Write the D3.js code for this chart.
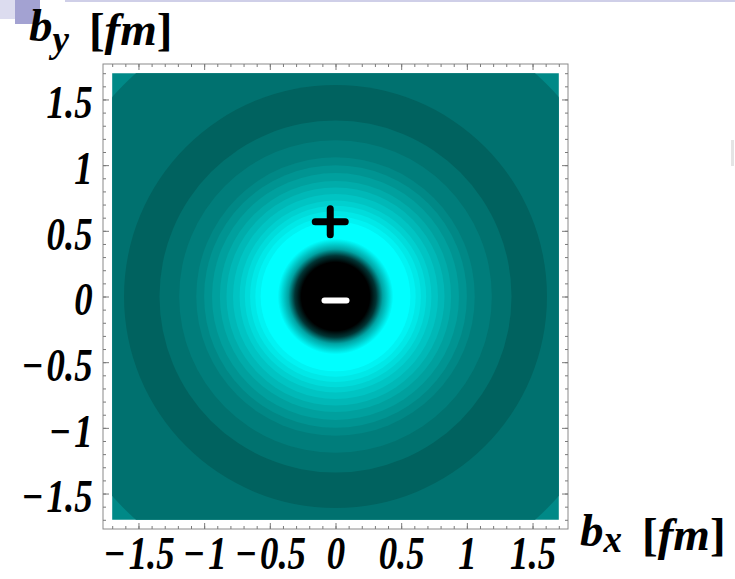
<!DOCTYPE html>
<html>
<head>
<meta charset="utf-8">
<script src="https://cdn.jsdelivr.net/npm/d3@7"></script>
<style>
  body { margin: 0; background: #fff; }
  text { font-family: "Liberation Serif", "Times New Roman", serif; }
</style>
</head>
<body>
<svg id="chart" width="735" height="579"></svg>
<script>
// contour bands, outer radius in fm, outermost first
var bandRadii  = [2.6, 2.28, 1.61, 1.34, 1.19, 1.06, 1.0, 0.94, 0.88, 0.83, 0.78, 0.73, 0.69, 0.65, 0.61, 0.57];
var bandColors = ["#008987", "#00716f", "#00625f", "#00726f", "#007d7b", "#008886", "#009492", "#00a09e",
                  "#00acaa", "#00b8b7", "#00c4c3", "#00d0cf", "#00dcdb", "#00e8e7", "#00f3f3", "#00ffff"];
// the negative core: smooth ramp from black to cyan
var coreRadius = 0.44;
var coreStopR  = [0, 0.26, 0.31, 0.36, 0.44];
var coreStopC  = ["#000000", "#000000", "#003535", "#00a4a4", "#00ffff"];

var xTicks = [-1.5, -1, -0.5, 0, 0.5, 1, 1.5];
var yTicks = [-1.5, -1, -0.5, 0, 0.5, 1, 1.5];
var minorTicks = d3.range(-17, 18).map(function(d) { return d / 10; });

var chargeX = [-0.04, 0];
var chargeY = [0.57, -0.03];
var chargeSign = ["+", "-"];

var svg = d3.select("#chart");

// slide decoration in the corner
svg.append("rect").attr("x", 0).attr("y", 0).attr("width", 15).attr("height", 19).attr("fill", "#dcdcef");
svg.append("rect").attr("x", 15).attr("y", 0).attr("width", 25).attr("height", 24).attr("fill", "#a3a2d2");
svg.append("rect").attr("x", 65).attr("y", 0).attr("width", 670).attr("height", 2).attr("fill", "#cfcfe8");
svg.append("rect").attr("x", 731).attr("y", 140).attr("width", 3).attr("height", 26).attr("fill", "#e4e4e4");

var x = d3.scaleLinear().domain([-1.77, 1.77]).range([103, 568]);
var y = d3.scaleLinear().domain([-1.77, 1.77]).range([529, 64]);
var k = x(1) - x(0);

// clip to plot region
svg.append("clipPath").attr("id", "plotclip")
  .append("rect")
    .attr("x", x(-1.7)).attr("y", y(1.7))
    .attr("width", x(1.7) - x(-1.7)).attr("height", y(-1.7) - y(1.7));

var grad = svg.append("defs").append("radialGradient")
    .attr("id", "core")
    .attr("gradientUnits", "userSpaceOnUse")
    .attr("cx", x(0)).attr("cy", y(0)).attr("r", coreRadius * k);
grad.selectAll("stop")
  .data(coreStopR)
  .enter().append("stop")
    .attr("offset", function(d) { return d / coreRadius; })
    .attr("stop-color", function(d, i) { return coreStopC[i]; });

var plot = svg.append("g").attr("clip-path", "url(#plotclip)");

plot.selectAll("circle.band")
  .data(bandRadii)
  .enter().append("circle")
    .attr("class", "band")
    .attr("cx", x(0)).attr("cy", y(0))
    .attr("r", function(d) { return d * k; })
    .attr("fill", function(d, i) { return bandColors[i]; });

plot.append("circle")
    .attr("cx", x(0)).attr("cy", y(0))
    .attr("r", coreRadius * k)
    .attr("fill", "url(#core)");

// frame with inward ticks
svg.append("rect")
    .attr("x", x(-1.77)).attr("y", y(1.77))
    .attr("width", x(1.77) - x(-1.77)).attr("height", y(-1.77) - y(1.77))
    .attr("fill", "none").attr("stroke", "#8a8a8a").attr("stroke-width", 1);

function frameTicks(axis, tx, ty, vals, size) {
  svg.append("g")
    .attr("transform", "translate(" + tx + "," + ty + ")")
    .call(axis.tickValues(vals).tickSize(size).tickFormat(""))
    .call(function(g) { g.select(".domain").remove(); })
    .selectAll("line").attr("stroke", "#7a7a7a");
}
[[d3.axisBottom(x), 0, y(-1.77)], [d3.axisTop(x), 0, y(1.77)],
 [d3.axisLeft(y), x(-1.77), 0], [d3.axisRight(y), x(1.77), 0]].forEach(function(a) {
  frameTicks(a[0], a[1], a[2], minorTicks, -3);
  frameTicks(a[0], a[1], a[2], xTicks, -6);
});

function fmt(d) { return d < 0 ? "\u2212\u200a" + Math.abs(d) : String(d); }

var xLab = svg.append("g")
    .attr("class", "lab")
    .attr("transform", "translate(0," + y(-1.77) + ")")
    .call(d3.axisBottom(x).tickValues(xTicks).tickSize(0).tickPadding(7).tickFormat(fmt));
xLab.select(".domain").remove();

var yLab = svg.append("g")
    .attr("class", "lab")
    .attr("transform", "translate(" + x(-1.77) + ",0)")
    .call(d3.axisLeft(y).tickValues(yTicks).tickSize(0).tickPadding(13).tickFormat(fmt));
yLab.select(".domain").remove();
yLab.selectAll("text").attr("dy", "0.40em");

svg.selectAll(".lab .tick text")
    .attr("fill", "#000")
    .attr("transform", "scale(0.8,1)")
    .style("font-family", "'Liberation Serif', 'Times New Roman', serif")
    .style("font-size", "46px")
    .style("font-weight", "bold")
    .style("font-style", "italic");

// charge markers
chargeSign.forEach(function(s, i) {
  var cx = x(chargeX[i]), cy = y(chargeY[i]);
  var col = s === "+" ? "#000" : "#fff";
  var w = s === "+" ? 7 : 6;
  plot.append("line")
      .attr("x1", cx - (s === "+" ? 15 : 11)).attr("x2", cx + (s === "+" ? 15 : 11))
      .attr("y1", cy).attr("y2", cy)
      .attr("stroke", col).attr("stroke-width", w).attr("stroke-linecap", "round");
  if (s === "+") {
    plot.append("line")
        .attr("x1", cx).attr("x2", cx).attr("y1", cy - 13).attr("y2", cy + 13)
        .attr("stroke", col).attr("stroke-width", w).attr("stroke-linecap", "round");
  }
});

// axis titles
function title(tx, ty, sub, subDy) {
  var t = svg.append("text")
      .attr("x", tx).attr("y", ty)
      .style("font-size", "47px").style("font-weight", "bold");
  t.append("tspan").style("font-style", "italic").text("b");
  t.append("tspan").style("font-style", "italic").style("font-size", "37px")
      .attr("dy", subDy).text(sub);
  t.append("tspan").attr("dy", -subDy + 4).attr("dx", 20).text("[");
  t.append("tspan").style("font-style", "italic").text("fm");
  t.append("tspan").text("]");
}
title(29, 41, "y", 11);
title(580, 546, "x", 6);
</script>
</body>
</html>
